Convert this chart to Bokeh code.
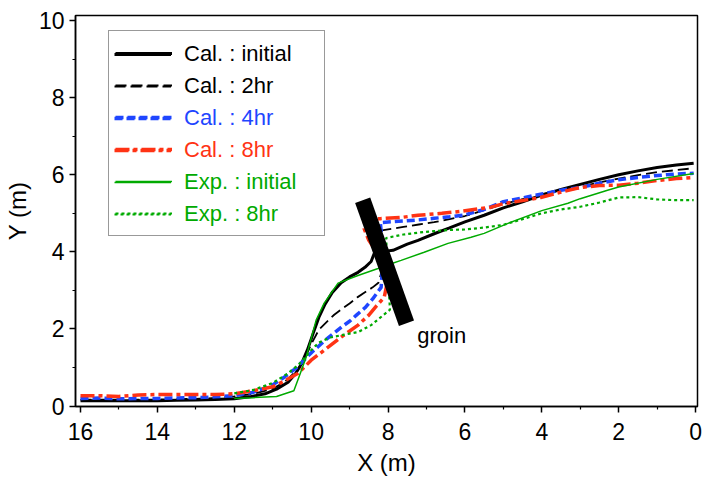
from bokeh.plotting import figure
from bokeh.models import Range1d, FixedTicker, Legend, LegendItem
from bokeh.core.properties import value
from bokeh.embed import file_html
from bokeh.resources import INLINE

# ---------------- data ----------------
cal_init_x = [16, 15, 14, 13.5, 13, 12.5, 12, 11.6, 11.2, 10.9, 10.6, 10.4, 10.25, 10.1, 9.95, 9.8,
              9.65, 9.45, 9.22, 9.0, 8.78, 8.6, 8.44, 8.36, 8.2, 7.87, 7.5, 7.22, 6.8, 6.4, 6.0, 5.5,
              5.0, 4.5, 4.0, 3.5, 3.0, 2.5, 2.0, 1.5, 1.0, 0.5, 0.05]
cal_init_y = [0.14, 0.14, 0.14, 0.15, 0.16, 0.17, 0.19, 0.24, 0.32, 0.44, 0.62, 0.85, 1.1, 1.45, 1.88, 2.3,
              2.62, 2.95, 3.2, 3.35, 3.47, 3.6, 3.75, 3.96, 4.0, 4.04, 4.2, 4.3, 4.47, 4.62, 4.78, 4.95,
              5.14, 5.3, 5.47, 5.62, 5.75, 5.88, 6.0, 6.1, 6.19, 6.25, 6.3]

cal_2hr_x = [16, 15, 14, 13, 12.5, 12, 11.5, 11, 10.7, 10.4, 10.2, 10.0, 9.8, 9.6, 9.4, 9.2, 9.0, 8.8,
             8.6, 8.4, 8.25, 8.05, 8.2, 7.9, 7.6, 7.2, 6.8, 6.4, 6.0, 5.5, 5.0, 4.5, 4.0, 3.5, 3.0, 2.5,
             2.0, 1.5, 1.0, 0.5, 0.05]
cal_2hr_y = [0.17, 0.17, 0.17, 0.19, 0.21, 0.25, 0.32, 0.45, 0.62, 0.9, 1.15, 1.6, 1.98, 2.18, 2.37, 2.52,
             2.66, 2.82, 2.95, 3.08, 3.2, 3.9, 4.55, 4.6, 4.65, 4.71, 4.77, 4.85, 4.93, 5.08, 5.24, 5.37,
             5.5, 5.6, 5.69, 5.8, 5.9, 5.99, 6.07, 6.12, 6.17]

cal_4hr_x = [16, 15.5, 15, 14, 13, 12.5, 12, 11.5, 11, 10.7, 10.4, 10.2, 10.0, 9.8, 9.6, 9.4, 9.2, 9.0,
             8.8, 8.6, 8.4, 8.18, 8.12, 8.2, 7.9, 7.6, 7.2, 6.8, 6.4, 6.0, 5.5, 5.0, 4.5, 4.0, 3.5, 3.0,
             2.5, 2.0, 1.5, 1.0, 0.5, 0.05]
cal_4hr_y = [0.2, 0.21, 0.19, 0.2, 0.22, 0.24, 0.27, 0.36, 0.55, 0.75, 0.98, 1.18, 1.38, 1.56, 1.74, 1.9,
             2.06, 2.2, 2.38, 2.55, 2.78, 3.08, 3.9, 4.76, 4.78, 4.8, 4.83, 4.87, 4.91, 4.96, 5.1, 5.3,
             5.4, 5.5, 5.6, 5.67, 5.78, 5.87, 5.93, 5.98, 6.02, 6.04]

cal_8hr_x = [16, 15.5, 15, 14.5, 14, 13, 12.5, 12, 11.5, 11, 10.7, 10.34, 10.0, 9.66, 9.22, 8.78, 8.5,
             8.3, 8.1, 8.0, 8.3, 8.5, 8.62, 8.6, 8.2, 7.6, 7.22, 6.6, 6.1, 5.32, 5.0, 4.5, 4.03, 3.5,
             3.0, 2.5, 2.0, 1.5, 1.0, 0.5, 0.05]
cal_8hr_y = [0.27, 0.27, 0.25, 0.29, 0.3, 0.3, 0.3, 0.32, 0.4, 0.5, 0.65, 0.85, 1.19, 1.45, 1.79, 2.1,
             2.36, 2.6, 2.82, 3.3, 4.0, 4.3, 4.6, 4.85, 4.86, 4.9, 4.95, 5.0, 5.05, 5.16, 5.25, 5.33,
             5.41, 5.55, 5.67, 5.72, 5.73, 5.78, 5.85, 5.9, 5.93]

exp_init_x = [12, 11.5, 10.9, 10.45, 10.3, 10.13, 10.0, 9.87, 9.66, 9.3, 8.8, 8.26, 7.9, 7.66, 7.06,
              6.44, 5.84, 5.5, 4.88, 4.0, 3.32, 3.0, 2.29, 2.0, 1.0, 0.05]
exp_init_y = [0.2, 0.22, 0.25, 0.4, 0.8, 1.27, 1.75, 2.23, 2.67, 3.19, 3.38, 3.57, 3.7, 3.78, 3.99,
              4.22, 4.38, 4.48, 4.74, 5.07, 5.26, 5.38, 5.6, 5.68, 5.88, 6.03]

exp_8hr_x = [12, 11.5, 11, 10.6, 10.3, 10.0, 9.8, 9.5, 9.0, 8.78, 8.44, 7.95, 8.0, 8.05, 7.6, 7.2, 6.8,
             6.4, 6.0, 5.5, 5.0, 4.5, 4.0, 3.5, 3.0, 2.5, 2.0, 1.5, 1.0, 0.5, 0.05]
exp_8hr_y = [0.33, 0.42, 0.6, 0.85, 1.1, 1.45, 1.65, 1.78, 1.88, 1.92, 2.1, 2.5, 3.4, 4.36, 4.45, 4.5,
             4.54, 4.57, 4.58, 4.63, 4.7, 4.85, 5.0, 5.1, 5.17, 5.28, 5.41, 5.42, 5.36, 5.34, 5.34]

groin_x = [8.66, 7.52]
groin_y = [5.34, 2.15]
groin_label_x = [7.24]
groin_label_y = [1.83]
groin_label = ["groin"]

x_ticks = [16, 14, 12, 10, 8, 6, 4, 2, 0]
x_minor = [15, 13, 11, 9, 7, 5, 3, 1]
y_ticks = [0, 2, 4, 6, 8, 10]
y_minor = [1, 3, 5, 7, 9]

labels = ["Cal. : initial", "Cal. : 2hr", "Cal. : 4hr", "Cal. : 8hr", "Exp. : initial", "Exp. : 8hr"]

# ---------------- styling ----------------
BLUE = "#1f46ff"
RED = "#ff3314"
GREEN = "#00aa00"
FONT = "Liberation Sans"

p = figure(width=703, height=480, output_backend="svg", toolbar_location=None,
           x_range=Range1d(16.13, -0.05), y_range=Range1d(-0.01, 10.13))
p.min_border_left = 74
p.min_border_right = 6
p.min_border_top = 15
p.min_border_bottom = 74
p.background_fill_color = "white"
p.border_fill_color = "white"
p.outline_line_color = "black"
p.outline_line_width = 1.5
p.xgrid.visible = False
p.ygrid.visible = False

r1 = p.line(cal_init_x, cal_init_y, line_color="black", line_width=3)
r2 = p.line(cal_2hr_x, cal_2hr_y, line_color="black", line_width=1.8, line_dash="11 5")
r3 = p.line(cal_4hr_x, cal_4hr_y, line_color=BLUE, line_width=3.5, line_dash="8 4")
r4 = p.line(cal_8hr_x, cal_8hr_y, line_color=RED, line_width=3.5, line_dash="14 4 4 4")
r5 = p.line(exp_init_x, exp_init_y, line_color=GREEN, line_width=1.5)
r6 = p.line(exp_8hr_x, exp_8hr_y, line_color=GREEN, line_width=2.2, line_dash="3 3")

p.line(groin_x, groin_y, line_color="black", line_width=16, line_cap="butt")
p.text(groin_label_x, groin_label_y, text=groin_label, text_font=value(FONT),
       text_font_size="22px", text_color="black", text_baseline="alphabetic", text_align="left")

for ax, ticks, minor, lab in ((p.xaxis[0], x_ticks, x_minor, "X (m)"), (p.yaxis[0], y_ticks, y_minor, "Y (m)")):
    ax.ticker = FixedTicker(ticks=ticks, minor_ticks=minor)
    ax.axis_label = lab
    ax.axis_label_text_font = FONT
    ax.axis_label_text_font_size = "24px"
    ax.axis_label_text_font_style = "normal"
    ax.axis_label_text_color = "black"
    ax.major_label_text_font = FONT
    ax.major_label_text_font_size = "23px"
    ax.major_label_text_color = "black"
    ax.axis_line_color = "black"
    ax.axis_line_width = 1.5
    ax.major_tick_line_color = "black"
    ax.major_tick_line_width = 1.5
    ax.minor_tick_line_color = "black"
    ax.minor_tick_line_width = 1.2
    ax.major_tick_in = 0
    ax.major_tick_out = 6
    ax.minor_tick_in = 0
    ax.minor_tick_out = 3

p.xaxis[0].major_label_standoff = 10
p.xaxis[0].axis_label_standoff = 6
p.yaxis[0].major_label_standoff = 5
p.yaxis[0].axis_label_standoff = 5

renderers = [r1, r2, r3, r4, r5, r6]
colors = ["black", "black", BLUE, RED, GREEN, GREEN]

PAD = 6
ROW = 32
LX = 33
LBOTTOM = 170
common = dict(glyph_width=57, glyph_height=ROW, label_height=ROW, label_standoff=13, spacing=0,
              padding=PAD, margin=0, label_text_font=FONT, label_text_font_size="22px")

main = Legend(items=[LegendItem(label=l, renderers=[r]) for l, r in zip(labels, renderers)],
              location=(LX, LBOTTOM), border_line_color="#333333", border_line_width=1.5,
              background_fill_color="white", background_fill_alpha=1.0, label_text_alpha=0.0,
              label_width=133, **common)
p.add_layout(main, "center")

total_h = 2 * PAD + len(labels) * ROW
for i, (l, r, c) in enumerate(zip(labels, renderers, colors)):
    top = LBOTTOM + total_h - i * ROW
    bottom = top - (2 * PAD + ROW)
    lg = Legend(items=[LegendItem(label=l, renderers=[r])], location=(LX, bottom),
                border_line_alpha=0.0, background_fill_alpha=0.0, label_text_color=c, **common)
    p.add_layout(lg, "center")

open("out.html", "w").write(file_html(p, INLINE))
